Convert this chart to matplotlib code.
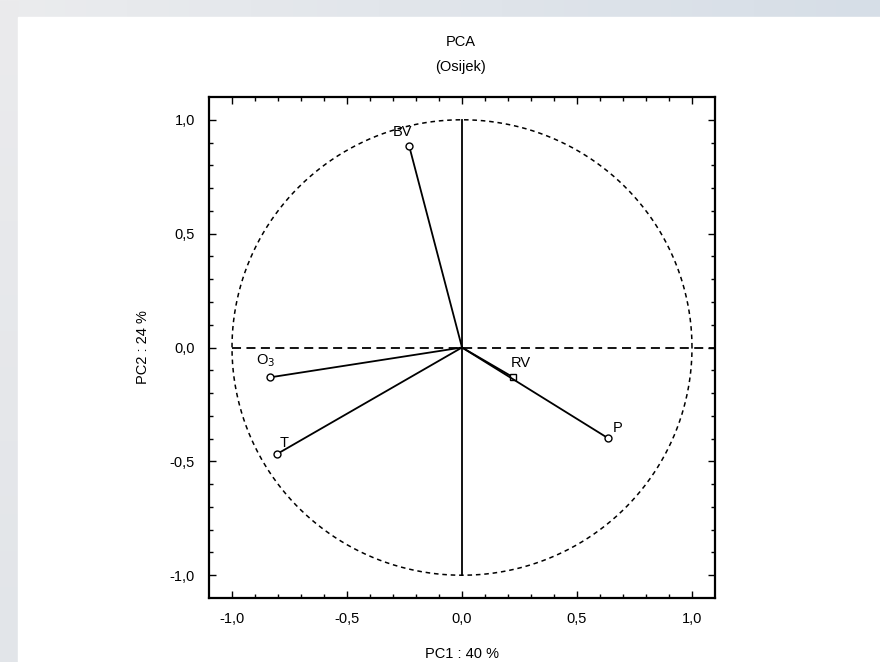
import numpy as np
import matplotlib.pyplot as plt
from matplotlib.patches import Rectangle

# variable loadings on PC1 / PC2
labels = ["BV", "O$_3$", "T", "RV", "P"]
pc1 = [-0.23, -0.834, -0.803, 0.223, 0.633]
pc2 = [0.886, -0.131, -0.467, -0.131, -0.397]
markers = ["o", "o", "o", "s", "o"]
# label offsets in points (dx, dy)
label_off = [(-12, 5), (-10, 6), (2, 3), (-2, 5), (4, 2)]

ticks = [-1.0, -0.5, 0.0, 0.5, 1.0]
tick_labels = ["-1,0", "-0,5", "0,0", "0,5", "1,0"]

plt.rcParams["font.family"] = ["Liberation Sans", "DejaVu Sans"]

fig = plt.figure(figsize=(8.8, 6.62), dpi=100)
fig.patch.set_facecolor("white")

# page background: pale gradient strip on top and left
bg = fig.add_axes([0, 0, 1, 1], zorder=-10)
bg.set_axis_off()
grad = np.linspace(0, 1, 256)[None, :]
top_cols = np.array([[235, 236, 238], [214, 222, 231]]) / 255.0
img = top_cols[0] + (top_cols[1] - top_cols[0]) * grad[..., None]
bg.imshow(img, extent=[0, 1, 0, 1], aspect="auto")
left_img = np.linspace(0, 1, 256)[:, None, None]
lc = np.array([[235, 235, 237], [226, 229, 233]]) / 255.0
bg.imshow(np.repeat(lc[0] + (lc[1] - lc[0]) * left_img, 2, axis=1),
          extent=[0, 18 / 880, 0, 1], aspect="auto")
bg.add_patch(Rectangle((18 / 880, 0), 1, 1 - 17 / 662, color="white", zorder=5))
bg.set_xlim(0, 1)
bg.set_ylim(0, 1)

ax = fig.add_axes([209 / 880, 64 / 662, 506 / 880, 501 / 662])
ax.set_xlim(-1.1, 1.1)
ax.set_ylim(-1.1, 1.1)

# unit circle
t = np.linspace(0, 2 * np.pi, 400)
ax.plot(np.cos(t), np.sin(t), color="black", lw=1.1, ls=(0, (3, 2.5)))
# reference lines
ax.plot([-1.0, 1.1], [0, 0], color="black", lw=1.3, ls=(0, (5, 3)))
ax.plot([0, 0], [-1.0, 1.0], color="black", lw=1.3)

for lab, x, y, m, off in zip(labels, pc1, pc2, markers, label_off):
    ax.plot([0, x], [0, y], color="black", lw=1.3)
    ax.plot(x, y, marker=m, ms=5, mfc="white", mec="black", mew=1.0)
    ax.annotate(lab, (x, y), xytext=off, textcoords="offset points",
                fontsize=10.5, ha="left", va="bottom")

ax.set_xticks(ticks)
ax.set_xticklabels(tick_labels)
ax.set_yticks(ticks)
ax.set_yticklabels(tick_labels)
ax.set_xticks(np.arange(-1.0, 1.01, 0.1), minor=True)
ax.set_yticks(np.arange(-1.0, 1.01, 0.1), minor=True)
ax.tick_params(which="both", direction="in", top=True, right=True,
               labelsize=10.5, width=1.0)
ax.tick_params(which="major", length=5, pad=10)
ax.tick_params(which="minor", length=3)
for s in ax.spines.values():
    s.set_linewidth(1.6)

ax.set_xlabel("PC1 : 40 %", fontsize=10.5, labelpad=15)
ax.set_ylabel("PC2 : 24 %", fontsize=10.5, labelpad=14)
fig.text(461 / 880, 1 - 42 / 662, "PCA", ha="center", va="center", fontsize=10.5)
fig.text(461 / 880, 1 - 67 / 662, "(Osijek)", ha="center", va="center", fontsize=10.5)

fig.savefig("out.png", dpi=100)
